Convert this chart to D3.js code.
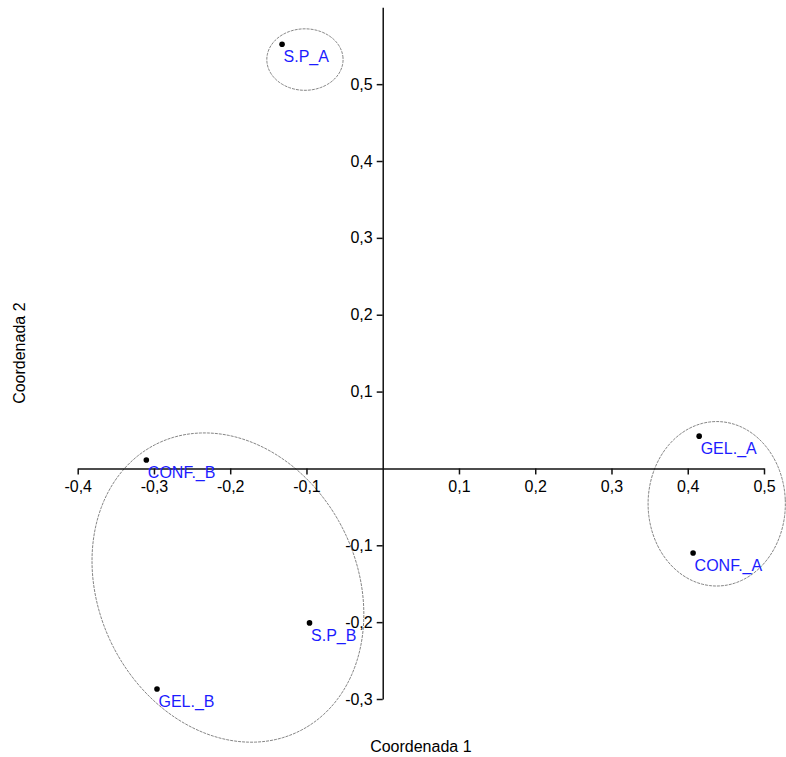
<!DOCTYPE html>
<html>
<head>
<meta charset="utf-8">
<script src="https://cdn.jsdelivr.net/npm/d3@7"></script>
<style>
  body { margin: 0; background: #fff; }
  svg { display: block; font-family: 'Liberation Sans', Arial, sans-serif; }
  .tick text { font-size: 16px; fill: #000; }
  .axis-label { font-size: 16px; fill: #000; }
  .pt-label { font-size: 16px; fill: #1c1cff; }
</style>
</head>
<body>
<svg width="786" height="757"></svg>
<script>
const labels = ['S.P_A', 'GEL._A', 'CONF._A', 'CONF._B', 'S.P_B', 'GEL._B'];
const coord1 = [-0.132, 0.415, 0.407, -0.310, -0.096, -0.296];
const coord2 = [0.552, 0.042, -0.110, 0.011, -0.201, -0.287];

const xTicks = [-0.4, -0.3, -0.2, -0.1, 0.1, 0.2, 0.3, 0.4, 0.5];
const xTickLabels = ['-0,4', '-0,3', '-0,2', '-0,1', '0,1', '0,2', '0,3', '0,4', '0,5'];
const yTicks = [-0.3, -0.2, -0.1, 0.1, 0.2, 0.3, 0.4, 0.5];
const yTickLabels = ['-0,3', '-0,2', '-0,1', '0,1', '0,2', '0,3', '0,4', '0,5'];

// group ellipses: centre, semi-axes (data units), rotation in degrees
const ellCx = [-0.102, 0.438, -0.203];
const ellCy = [0.532, -0.046, -0.155];
const ellRx = [0.050, 0.090, 0.209];
const ellRy = [0.040, 0.107, 0.169];
const ellAngle = [0, 0, -62.6];

const svg = d3.select('svg');

const xScale = d3.scaleLinear().domain([-0.4, 0.5]).range([77.7, 764]);
const yScale = d3.scaleLinear().domain([-0.3, 0.6]).range([699, 7.3]);

const data = labels.map((d, i) => ({ label: d, x: coord1[i], y: coord2[i] }));

// ellipses
const ellipsePath = i => {
  const th = ellAngle[i] * Math.PI / 180;
  const pts = d3.range(0, 361, 3).map(a => {
    const t = a * Math.PI / 180;
    const ex = ellRx[i] * Math.cos(t), ey = ellRy[i] * Math.sin(t);
    return [
      xScale(ellCx[i] + ex * Math.cos(th) - ey * Math.sin(th)),
      yScale(ellCy[i] + ex * Math.sin(th) + ey * Math.cos(th))
    ];
  });
  return d3.line().curve(d3.curveCardinalClosed)(pts.slice(0, -1));
};

svg.append('g')
  .selectAll('path')
  .data(ellCx)
  .join('path')
    .attr('d', (d, i) => ellipsePath(i))
    .attr('fill', 'none')
    .attr('stroke', '#666')
    .attr('stroke-width', 0.8)
    .attr('stroke-dasharray', '3,1');

// axes through the origin
const xAxis = d3.axisBottom(xScale)
  .tickValues(xTicks)
  .tickFormat((d, i) => xTickLabels[i])
  .tickSize(6)
  .tickSizeOuter(0)
  .tickPadding(6);

const yAxis = d3.axisLeft(yScale)
  .tickValues(yTicks)
  .tickFormat((d, i) => yTickLabels[i])
  .tickSize(6)
  .tickSizeOuter(0)
  .tickPadding(4);

const xAxisG = svg.append('g')
  .attr('transform', `translate(0,${yScale(0)})`)
  .call(xAxis);
xAxisG.selectAll('.domain, line').attr('stroke', '#111').attr('stroke-width', 1.5);

const yAxisG = svg.append('g')
  .attr('transform', `translate(${xScale(0)},0)`)
  .call(yAxis);
yAxisG.selectAll('.domain, line').attr('stroke', '#111').attr('stroke-width', 1.5);

// points
svg.append('g')
  .selectAll('circle')
  .data(data)
  .join('circle')
    .attr('cx', d => xScale(d.x))
    .attr('cy', d => yScale(d.y))
    .attr('r', 2.8)
    .attr('fill', '#000');

svg.append('g')
  .selectAll('text')
  .data(data)
  .join('text')
    .attr('class', 'pt-label')
    .attr('x', d => xScale(d.x) + 1.5)
    .attr('y', d => yScale(d.y) + 18)
    .text(d => d.label);

// axis titles
svg.append('text')
  .attr('class', 'axis-label')
  .attr('x', (xScale.range()[0] + xScale.range()[1]) / 2)
  .attr('y', 752)
  .attr('text-anchor', 'middle')
  .text('Coordenada 1');

svg.append('text')
  .attr('class', 'axis-label')
  .attr('transform', `translate(25,${(yScale.range()[0] + yScale.range()[1]) / 2}) rotate(-90)`)
  .attr('text-anchor', 'middle')
  .text('Coordenada 2');
</script>
</body>
</html>
